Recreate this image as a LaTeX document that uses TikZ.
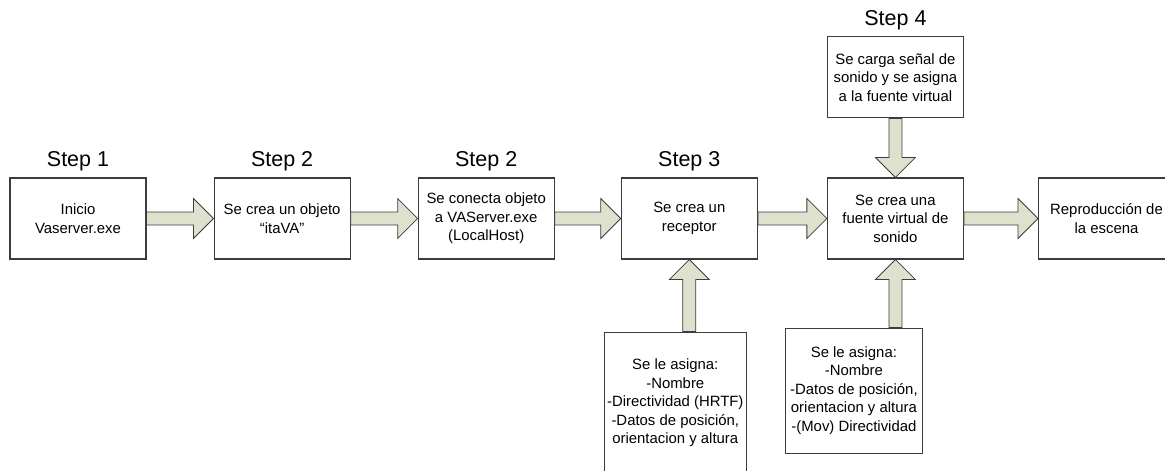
\documentclass[tikz,border=0pt]{standalone}
\usepackage{fontspec}
\setmainfont{Liberation Sans}
\usetikzlibrary{positioning,calc}
\definecolor{arrowfill}{RGB}{221,225,205}
\definecolor{edgegray}{RGB}{60,60,60}
\tikzset{
  box/.style={draw=edgegray, line width=1.1pt, fill=white, minimum width=136pt,
    minimum height=81pt, align=center, inner sep=2pt,
    font=\fontsize{14.9}{18.5}\selectfont},
  steplabel/.style={inner sep=0pt, font=\fontsize{21.5}{24}\selectfont},
  fat/.style={draw=edgegray, fill=arrowfill, line width=0.8pt, line join=miter,
    to path={($(\tikztostart)!6.5pt!90:(\tikztotarget)$)
      -- ($(\tikztotarget)!20pt!(\tikztostart)!6.5pt!90:(\tikztotarget)$)
      -- ($(\tikztotarget)!20pt!(\tikztostart)!20pt!90:(\tikztotarget)$)
      -- (\tikztotarget)
      -- ($(\tikztotarget)!20pt!(\tikztostart)!20pt!-90:(\tikztotarget)$)
      -- ($(\tikztotarget)!20pt!(\tikztostart)!6.5pt!-90:(\tikztotarget)$)
      -- ($(\tikztostart)!6.5pt!-90:(\tikztotarget)$) -- cycle}}
}
\begin{document}
\begin{tikzpicture}
    \useasboundingbox (0,0) rectangle (1165pt,-471pt);

    \node (b1) [box] at (78pt,-218.5pt) {Inicio\\Vaserver.exe};
    \node (b2) [box, right=67pt of b1] {Se crea un objeto\\“itaVA”};
    \node (b3) [box, right=67pt of b2] {Se conecta objeto\\a VAServer.exe\\(LocalHost)};
    \node (b4) [box, right=66pt of b3] {Se crea un\\receptor};
    \node (b5) [box, right=69pt of b4] {Se crea una\\fuente virtual de\\sonido};
    \node (b6) [box, right=74pt of b5] {Reproducción de\\la escena};

    \node (carga) [box, above=59pt of b5] {Se carga señal de\\sonido y se asigna\\a la fuente virtual};
    \node (asig1) [box, minimum width=142pt, minimum height=142pt, below=72pt of b4, xshift=-14pt]
        {Se le asigna:\\-Nombre\\-Directividad (HRTF)\\-Datos de posición,\\orientacion y altura};
    \node (asig2) [box, minimum width=137pt, minimum height=125pt, below=68pt of b5, xshift=-41.5pt]
        {Se le asigna:\\-Nombre\\-Datos de posición,\\orientacion y altura\\-(Mov) Directividad};

    \node (s1) [steplabel, above=6pt of b1] {Step 1};
    \node (s2) [steplabel, above=6pt of b2] {Step 2};
    \node (s3) [steplabel, above=6pt of b3] {Step 2};
    \node (s4) [steplabel, above=6pt of b4] {Step 3};
    \node (s5) [steplabel, above=6pt of carga] {Step 4};

    \coordinate (a1top) at (b4.south |- asig1.north);
    \coordinate (a2top) at (b5.south |- asig2.north);

    \draw[fat] (b1.east) to (b2.west);
    \draw[fat] (b2.east) to (b3.west);
    \draw[fat] (b3.east) to (b4.west);
    \draw[fat] (b4.east) to (b5.west);
    \draw[fat] (b5.east) to (b6.west);
    \draw[fat] (carga.south) to (b5.north);
    \draw[fat] (a1top) to (b4.south);
    \draw[fat] (a2top) to (b5.south);
\end{tikzpicture}
\end{document}
